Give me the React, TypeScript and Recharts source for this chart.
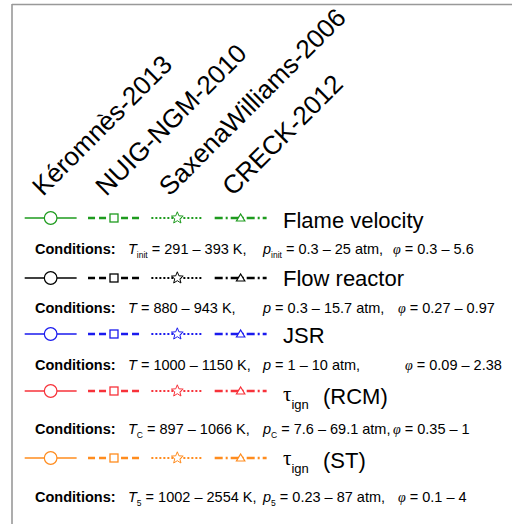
import { ComposedChart, Line, XAxis, YAxis } from 'recharts';

// mechanisms (columns of the legend)
const models = ['Kéromnès-2013', 'NUIG-NGM-2010', 'SaxenaWilliams-2006', 'CRECK-2012'];
const markers = ['circle', 'square', 'star', 'triangle'];

// experiment types (rows)
const rowSymbol = ['', '', '', 'τ', 'τ'];
const rowSymbolSub = ['', '', '', 'ign', 'ign'];
const rowName = ['Flame velocity', 'Flow reactor', 'JSR', '(RCM)', '(ST)'];
const condSub = ['init', '', '', 'C', '5'];
const tempRanges = ['291 – 393', '880 – 943', '1000 – 1150', '897 – 1066', '1002 – 2554'];
const pressRanges = ['0.3 – 25', '0.3 – 15.7', '1 – 10', '7.6 – 69.1', '0.23 – 87'];
const phiRanges = ['0.3 – 5.6', '0.27 – 0.97', '0.09 – 2.38', '0.35 – 1', '0.1 – 4'];

// styles / layout
const rowColors = ['#1e9b1e', '#000000', '#1a1aee', '#f7323a', '#ff8c1e'];
const dashes = ['', '7 4', '2 2', '8 3 2 3'];
const widths = [1.3, 2.6, 2.2, 2.6];
const SLOT_X0 = 51;
const SLOT_W = 63.33;
const HALF = 0.41;
const lineY = [218, 278, 334, 391, 458];
const labelY = [228, 286, 343, 404, 468];
const condY = [254, 313, 370, 434, 502];
const phiX = [393, 398, 405, 393, 398];
const SANS = '"Liberation Sans", Arial, sans-serif';
const SERIF = '"Liberation Serif", "Times New Roman", serif';

const segment = (i: number) => [
	{ x: i - HALF, y: 0 },
	{ x: i, y: 0 },
	{ x: i + HALF, y: 0 },
];

function starPoints(cx: number, cy: number, ro: number, ri: number) {
	const pts: string[] = [];
	for (let k = 0; k < 10; k++) {
		const r = k % 2 === 0 ? ro : ri;
		const a = -Math.PI / 2 + (k * Math.PI) / 5;
		pts.push(`${cx + r * Math.cos(a)},${cy + r * Math.sin(a)}`);
	}
	return pts.join(' ');
}

function makeDot(shape: string, color: string) {
	return (p: any) => {
		const { cx, cy, index } = p;
		const key = `d-${index}`;
		if (index !== 1) return <g key={key} />;
		if (shape === 'circle')
			return <circle key={key} cx={cx} cy={cy} r={6.3} fill="#fff" stroke={color} strokeWidth={1.2} />;
		if (shape === 'square')
			return <rect key={key} x={cx - 4} y={cy - 4} width={8} height={8} fill="#fff" stroke={color} strokeWidth={1.3} />;
		if (shape === 'star')
			return <polygon key={key} points={starPoints(cx, cy, 6.2, 2.7)} fill="#fff" stroke={color} strokeWidth={1} />;
		return (
			<polygon
				key={key}
				points={`${cx},${cy - 4} ${cx + 4.2},${cy + 3} ${cx - 4.2},${cy + 3}`}
				fill="#fff"
				stroke={color}
				strokeWidth={1.2}
			/>
		);
	};
}

function SampleRow({ color }: { color: string }) {
	return (
		<ComposedChart width={SLOT_W * 4} height={20} margin={{ top: 0, right: 0, bottom: 0, left: 0 }}>
			<XAxis type="number" dataKey="x" domain={[-0.5, 3.5]} hide />
			<YAxis type="number" domain={[-1, 1]} hide />
			{models.map((m, mi) => (
				<Line
					key={m}
					data={segment(mi)}
					dataKey="y"
					stroke={color}
					strokeWidth={widths[mi]}
					strokeDasharray={dashes[mi] || undefined}
					dot={makeDot(markers[mi], color)}
					activeDot={false}
					isAnimationActive={false}
				/>
			))}
		</ComposedChart>
	);
}

export default function App() {
	return (
		<div style={{ position: 'absolute', left: 0, top: 0, width: 512, height: 524, background: '#fff', overflow: 'hidden' }}>
			<svg width={512} height={524} style={{ position: 'absolute', left: 0, top: 0 }} fontFamily={SANS}>
				<line x1={12} y1={4.5} x2={512} y2={4.5} stroke="#999" strokeWidth={1.6} />
				<line x1={12} y1={4} x2={12} y2={524} stroke="#999" strokeWidth={1.6} />
				{models.map((m, i) => {
					const x = SLOT_X0 + i * SLOT_W - 8;
					return (
						<text key={m} x={x} y={197} fontSize={26} transform={`rotate(-45 ${x} 197)`}>
							{m}
						</text>
					);
				})}
				{rowName.map((name, ri) =>
					rowSymbol[ri] ? (
						<text key={name} x={283} y={labelY[ri]} fontSize={22}>
							<tspan fontFamily={SERIF} fontSize={21} dy={-3}>
								{rowSymbol[ri]}
							</tspan>
							<tspan fontSize={13} dy={8}>
								{rowSymbolSub[ri]}
							</tspan>
							<tspan x={323} dy={-5}>
								{name}
							</tspan>
						</text>
					) : (
						<text key={name} x={283} y={labelY[ri]} fontSize={22}>
							{name}
						</text>
					),
				)}
				{tempRanges.map((t, ri) => {
					const sub = condSub[ri];
					return (
						<text key={t} x={35} y={condY[ri]} fontSize={14.5}>
							<tspan fontWeight="bold">Conditions:</tspan>
							<tspan x={128} fontStyle="italic">
								T
							</tspan>
							{sub && (
								<tspan fontSize={8.5} dy={4}>
									{sub}
								</tspan>
							)}
							<tspan dy={sub ? -4 : 0}>{` = ${t} K,`}</tspan>
							<tspan x={263} fontStyle="italic">
								p
							</tspan>
							{sub && (
								<tspan fontSize={8.5} dy={4}>
									{sub}
								</tspan>
							)}
							<tspan dy={sub ? -4 : 0}>{` = ${pressRanges[ri]} atm,`}</tspan>
							<tspan x={phiX[ri]} fontFamily={SERIF} fontStyle="italic" fontSize={14}>
								φ
							</tspan>
							<tspan>{` = ${phiRanges[ri]}`}</tspan>
						</text>
					);
				})}
			</svg>
			{rowColors.map((c, ri) => (
				<div key={ri} style={{ position: 'absolute', left: SLOT_X0 - SLOT_W / 2, top: lineY[ri] - 10 }}>
					<SampleRow color={c} />
				</div>
			))}
		</div>
	);
}
